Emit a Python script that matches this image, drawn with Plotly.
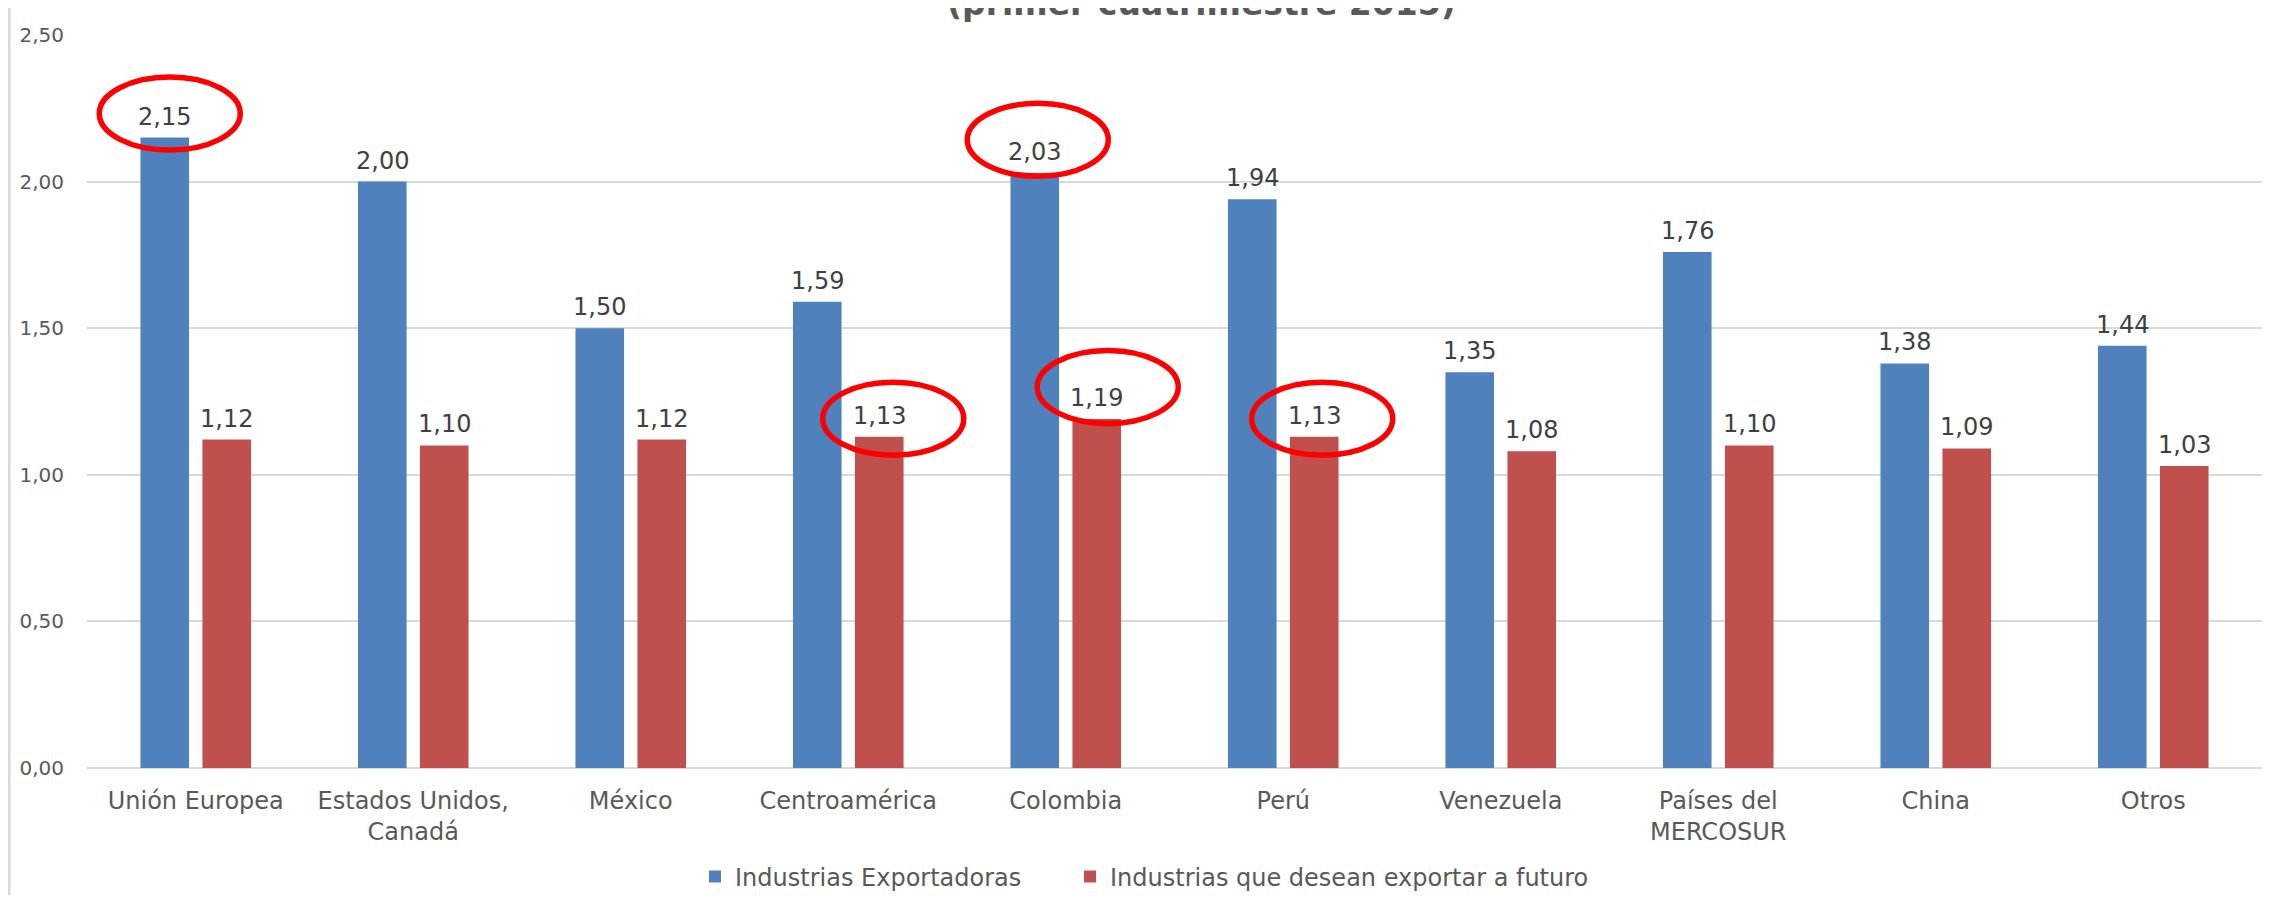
import plotly.graph_objects as go

# datos del grafico
categorias = [
    "Unión Europea", "Estados Unidos,<br>Canadá", "México", "Centroamérica",
    "Colombia", "Perú", "Venezuela", "Países del<br>MERCOSUR", "China", "Otros",
]
exportadoras = [2.15, 2.00, 1.50, 1.59, 2.03, 1.94, 1.35, 1.76, 1.38, 1.44]
futuro = [1.12, 1.10, 1.12, 1.13, 1.19, 1.13, 1.08, 1.10, 1.09, 1.03]
series_nombres = ["Industrias Exportadoras", "Industrias que desean exportar a futuro"]
titulo = "(primer cuatrimestre 2015)"
y_ticks = [0, 0.5, 1.0, 1.5, 2.0, 2.5]

# valores destacados con elipse roja: (indice categoria, serie)
destacados = [(0, 0), (3, 1), (4, 0), (4, 1), (5, 1)]

AZUL = "#4F81BD"
ROJO = "#C0504D"
FUENTE = "DejaVu Sans"

# la pagina tiene 8 px de margen en body
W, H = 2274 - 16, 903 - 16
M_L, M_R, M_T, M_B = 79, 4, 27, 127
ancho = W - M_L - M_R
alto = H - M_T - M_B
px_x = ancho / len(categorias)   # px por categoria
px_y = alto / 2.5                # px por unidad

BARGAP = 0.43
slot = (1 - BARGAP) / 2
offsets = [-slot / 2, slot / 2]

fig = go.Figure()
for k, (nombre, valores, color) in enumerate(zip(series_nombres, [exportadoras, futuro], [AZUL, ROJO])):
    fig.add_trace(go.Bar(
        x=categorias, y=valores, name=nombre,
        marker=dict(color=color, line=dict(width=0)),
        legend="legend" if k == 0 else "legend2",
    ))

# etiquetas de datos
series = [exportadoras, futuro]
for s, valores in enumerate(series):
    for i, v in enumerate(valores):
        fig.add_annotation(
            x=i + offsets[s], y=v, xref="x", yref="y",
            text=f"{v:.2f}".replace(".", ","), showarrow=False,
            yanchor="bottom", yshift=5,
            font=dict(family=FUENTE, size=24, color="#404040"),
        )

# elipses rojas (ajustes finos en px)
ajustes = {(0, 0): (5, -24), (3, 1): (14, -18), (4, 0): (3, -33), (4, 1): (11, -32), (5, 1): (8, -18)}
ew, eh = 141 / px_x, 73 / px_y
for i, s in destacados:
    dx, dy = ajustes[(i, s)]
    cx = i + offsets[s] + dx / px_x
    cy = series[s][i] - dy / px_y
    fig.add_shape(
        type="circle", xref="x", yref="y",
        x0=cx - ew / 2, x1=cx + ew / 2, y0=cy - eh / 2, y1=cy + eh / 2,
        line=dict(color="#FF0000", width=5.5),
    )

# borde izquierdo del grafico
fig.add_shape(
    type="line", xref="paper", yref="paper",
    x0=(1 - M_L) / ancho, x1=(1 - M_L) / ancho, y0=-1, y1=2,
    line=dict(color="#D9D9D9", width=3),
)

fig.add_annotation(
    text=f"<b>{titulo}</b>", xref="paper", yref="paper",
    x=(1193 - M_L) / ancho, y=1 + (M_T + 4) / alto, yanchor="middle", showarrow=False,
    font=dict(family=FUENTE, size=33, color="#595959"),
)

leyenda = dict(
    orientation="h", xanchor="left", yanchor="middle",
    y=-(869 - (H - M_B)) / alto,
    font=dict(family=FUENTE, size=24, color="#595959"),
    itemwidth=30,
)

fig.update_layout(
    width=W, height=H,
    margin=dict(l=M_L, r=M_R, t=M_T, b=M_B, autoexpand=False),
    barmode="group", bargap=BARGAP, bargroupgap=0.216,
    separators=",.",
    plot_bgcolor="white", paper_bgcolor="white",
    font=dict(family=FUENTE, color="#595959"),
    showlegend=True,
    legend=dict(leyenda, x=(687 - M_L) / ancho),
    legend2=dict(leyenda, x=(1062 - M_L) / ancho),
)
fig.update_xaxes(
    showgrid=False, showline=False, ticks="",
    tickfont=dict(family=FUENTE, size=24, color="#595959"),
    ticklabelstandoff=16,
)
fig.update_yaxes(
    range=[0, 2.5], tickvals=y_ticks, tickformat=".2f",
    showgrid=True, gridcolor="#D9D9D9", gridwidth=1.5,
    zeroline=True, zerolinecolor="#D9D9D9", zerolinewidth=1.5,
    showline=False, ticks="",
    tickfont=dict(family=FUENTE, size=20, color="#595959"),
    ticklabelstandoff=22,
)

fig.write_html("out.html")
